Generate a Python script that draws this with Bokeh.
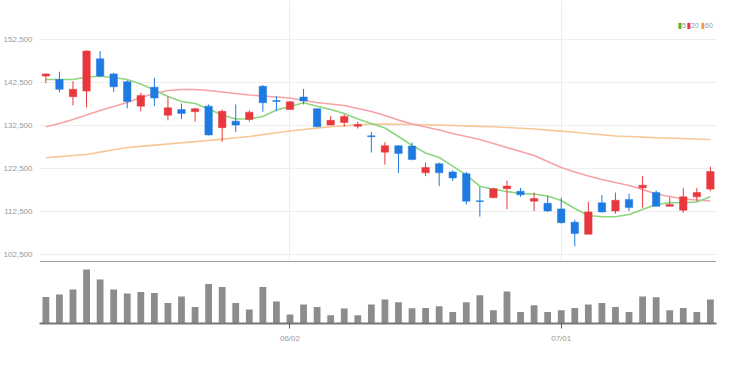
import numpy as np
from bokeh.plotting import figure
from bokeh.layouts import column
from bokeh.models import (ColumnDataSource, Range1d, FixedTicker, NumeralTickFormatter,
                          Span, Grid, Label)
from bokeh.embed import file_html
from bokeh.resources import INLINE

# ---- data ----
dates = ["2022-05-06", "2022-05-09", "2022-05-10", "2022-05-11", "2022-05-12", "2022-05-13",
         "2022-05-16", "2022-05-17", "2022-05-18", "2022-05-19", "2022-05-20", "2022-05-23",
         "2022-05-24", "2022-05-25", "2022-05-26", "2022-05-27", "2022-05-30", "2022-05-31",
         "2022-06-02", "2022-06-03", "2022-06-07", "2022-06-08", "2022-06-09", "2022-06-10",
         "2022-06-13", "2022-06-14", "2022-06-15", "2022-06-16", "2022-06-17", "2022-06-20",
         "2022-06-21", "2022-06-22", "2022-06-23", "2022-06-24", "2022-06-27", "2022-06-28",
         "2022-06-29", "2022-06-30", "2022-07-01", "2022-07-04", "2022-07-05", "2022-07-06",
         "2022-07-07", "2022-07-08", "2022-07-11", "2022-07-12", "2022-07-13", "2022-07-14",
         "2022-07-15", "2022-07-18"]

opens = [144000, 143200, 139200, 140500, 148000, 144500, 142700, 137000, 141400, 134900,
         136200, 135700, 137000, 132000, 133500, 133900, 141600, 138300, 136200, 139100,
         136400, 132600, 133200, 132300, 130100, 126300, 127800, 127700, 121500, 123600,
         121700, 121300, 115000, 115700, 117800, 117200, 114900, 114400, 113100, 110000,
         107200, 114500, 112600, 115300, 118000, 116900, 113700, 112800, 115900, 117700]
highs = [144600, 145000, 142800, 150000, 149800, 144800, 143000, 140100, 143600, 139200,
         137600, 136600, 137400, 136200, 137400, 136000, 141900, 139300, 138200, 141000,
         136400, 134700, 135100, 133400, 131000, 128600, 127800, 128500, 123900, 123900,
         122100, 121700, 118200, 118000, 119700, 118000, 116900, 116100, 115700, 110600,
         114800, 116300, 116900, 116600, 120700, 117400, 115800, 118000, 118000, 122900]
lows = [142300, 140200, 137200, 136700, 143800, 140300, 136500, 135800, 137000, 133700,
        134000, 133400, 130200, 128700, 131000, 133400, 135700, 135800, 136100, 137400,
        132200, 132600, 132200, 131800, 126200, 123400, 121500, 124400, 120700, 118400,
        119600, 114100, 111300, 115700, 113000, 115900, 112600, 112400, 109700, 104400,
        107200, 112200, 112000, 112600, 113400, 113700, 113700, 112200, 114900, 117200]
closes = [144500, 140900, 140900, 149800, 144000, 141500, 138100, 139500, 138900, 136600,
          135300, 136400, 130300, 135800, 132600, 135600, 137800, 138100, 138000, 138200,
          132200, 133700, 134600, 132700, 129900, 127800, 126000, 124600, 122700, 121500,
          120300, 114900, 114800, 117800, 118400, 116400, 115500, 112600, 109900, 107400,
          112400, 112400, 115100, 113400, 118600, 113700, 114100, 115900, 116900, 121800]

ma5 = [143200, 143200, 143200, 143780, 143960, 143660, 143200, 142150, 140760, 139240,
       138090, 137620, 136340, 134940, 134010, 134060, 134590, 136110, 136920, 137780,
       136990, 136220, 135290, 134010, 132970, 131920, 129940, 127840, 126100, 125050,
       123030, 120980, 118380, 117650, 117140, 116670, 116560, 116090, 115050, 113190,
       111560, 111260, 111260, 111800, 112960, 114120, 114520, 114520, 114700, 115910]
ma20 = [132190, 132970, 133900, 134940, 135990, 136920, 137850, 139010, 139940, 140640,
        140870, 140870, 140640, 140290, 139940, 139590, 139360, 139130, 138900, 138310,
        137850, 137500, 137160, 136450, 135760, 134830, 133780, 132850, 132150, 131450,
        130640, 129940, 129240, 128310, 127380, 126450, 125520, 124120, 122730, 121680,
        120750, 119940, 119240, 118540, 117620, 116560, 115990, 115400, 115180, 114940]
ma60 = [124980, 125250, 125500, 125750, 126300, 126850, 127380, 127650, 127920, 128190,
        128460, 128740, 129010, 129320, 129630, 129940, 130370, 130800, 131220, 131550,
        131880, 132200, 132420, 132640, 132850, 132820, 132780, 132740, 132660, 132580,
        132500, 132400, 132300, 132200, 132030, 131860, 131690, 131430, 131180, 130920,
        130630, 130350, 130060, 129930, 129800, 129660, 129560, 129460, 129350, 129250]

volumes = [532000, 580000, 680000, 1080000, 880000, 680000, 600000, 632000, 612000, 412000,
           540000, 332000, 792000, 732000, 412000, 280000, 732000, 440000, 180000, 380000,
           332000, 166000, 300000, 166000, 380000, 480000, 426000, 306000, 312000, 346000,
           232000, 426000, 566000, 266000, 640000, 232000, 366000, 232000, 266000, 312000,
           380000, 412000, 332000, 232000, 540000, 526000, 266000, 312000, 232000, 480000]

price_ticks = [102500, 112500, 122500, 132500, 142500, 152500]
ma_labels = ["5", "20", "60"]

# ---- styles ----
UP = "#E8383D"
DOWN = "#1E7BE2"
MA_COLORS = ["#8ED67E", "#F5A3A6", "#F7C796"]
LEG_COLORS = ["#3DBE3D", "#E8383D", "#F0A040"]
GRID = "#EEEEEE"
TXT = "#9A9A9A"
FONT = "Liberation Sans"

n = len(dates)
idx = list(range(n))
colors = [UP if c >= o else DOWN for o, c in zip(opens, closes)]
top = [max(o, c) for o, c in zip(opens, closes)]
bot = [min(o, c) for o, c in zip(opens, closes)]
src = ColumnDataSource(dict(x=idx, open=opens, high=highs, low=lows, close=closes,
                            top=top, bot=bot, color=colors, vol=volumes))

# month-start ticks
month_ticks = [i for i in range(1, n) if dates[i][5:7] != dates[i - 1][5:7]]
tick_labels = {i: dates[i][5:7] + "/" + dates[i][8:10] for i in month_ticks}

x_range = Range1d(-0.47, n - 0.55)
price_lo, price_hi = 100630, 161570

W = 723
H1 = 262
p1 = figure(width=W, height=H1, x_range=x_range, y_range=Range1d(price_lo, price_hi),
            output_backend="svg", toolbar_location=None, x_axis_location=None,
            min_border_left=31, min_border_right=7, min_border_top=0, min_border_bottom=0)
p1.outline_line_color = None
p1.background_fill_color = "white"
p1.border_fill_color = "white"
for g in p1.xgrid:
    g.visible = False

yaxis = p1.yaxis[0]
yaxis.ticker = FixedTicker(ticks=price_ticks)
yaxis.formatter = NumeralTickFormatter(format="0,0")
yaxis.axis_line_color = None
yaxis.major_tick_line_color = None
yaxis.minor_tick_line_color = None
yaxis.major_label_text_color = TXT
yaxis.major_label_text_font = FONT
yaxis.major_label_text_font_size = "8px"
yaxis.major_label_standoff = 1
p1.ygrid[0].grid_line_color = GRID
p1.ygrid[0].grid_line_width = 1
p1.add_layout(Grid(dimension=0, ticker=FixedTicker(ticks=month_ticks),
                   grid_line_color=GRID, grid_line_width=1))

# moving averages
for arr, col in zip([ma60, ma20, ma5], [MA_COLORS[2], MA_COLORS[1], MA_COLORS[0]]):
    p1.line(idx, arr, line_color=col, line_width=1.6)

# candles
p1.segment(x0="x", y0="high", x1="x", y1="low", color="color", line_width=1, source=src)
p1.vbar(x="x", top="top", bottom="bot", width=0.55, fill_color="color",
        line_color="color", line_width=0.5, source=src)

p1.add_layout(Span(location=price_lo, dimension="width", line_color="#444444", line_width=2))

# legend (manual, frame-relative screen units)
ly = H1 - 24.5
lx = [638.0, 647.0, 661.0]
for (sx, lab, col) in zip(lx, ma_labels, LEG_COLORS):
    p1.add_layout(Label(x=sx, y=ly, x_units="screen", y_units="screen",
                        text="\u25AE", text_color=col, text_font_size="8px",
                        text_baseline="middle", text_font="DejaVu Sans"))
    p1.add_layout(Label(x=sx + 4.5, y=ly, x_units="screen", y_units="screen",
                        text=lab, text_color=TXT, text_font_size="7px",
                        text_baseline="middle", text_font=FONT))

# volume panel
vol_hi = 1200000
p2 = figure(width=W, height=88, x_range=x_range, y_range=Range1d(0, vol_hi),
            output_backend="svg", toolbar_location=None, y_axis_location=None,
            min_border_left=31, min_border_right=7, min_border_top=1, min_border_bottom=27)
p2.outline_line_color = None
p2.ygrid.visible = False
p2.xgrid.visible = False
p2.vbar(x="x", top="vol", bottom=0, width=0.5, fill_color="#8C8C8C", line_color=None,
        source=src)
xa = p2.xaxis[0]
xa.ticker = FixedTicker(ticks=month_ticks)
xa.major_label_overrides = tick_labels
xa.axis_line_color = "#777777"
xa.axis_line_width = 2
xa.major_tick_line_color = "#555555"
xa.major_tick_in = 0
xa.major_tick_out = 5
xa.minor_tick_line_color = None
xa.major_label_text_color = TXT
xa.major_label_text_font = FONT
xa.major_label_text_font_size = "8px"
xa.major_label_standoff = 5

layout = column(p1, p2, spacing=0)
open("out.html", "w").write(file_html(layout, INLINE))
